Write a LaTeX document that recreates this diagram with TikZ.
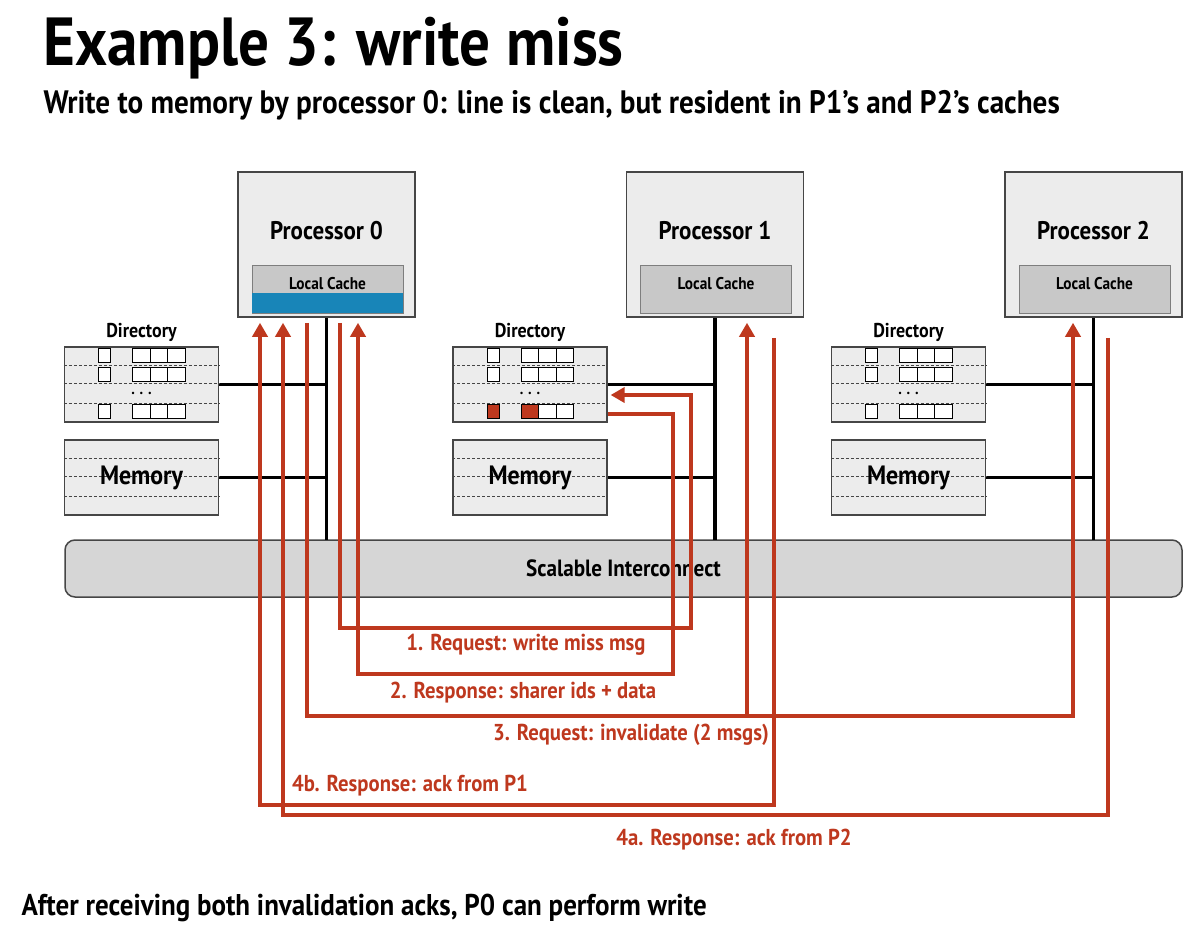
\documentclass[tikz,border=0pt]{standalone}
\usepackage{fontspec}
\setmainfont{PT Sans}[FakeStretch=0.9]
\usetikzlibrary{arrows.meta}
\definecolor{msgred}{RGB}{190,56,30}
\definecolor{boxgray}{RGB}{236,236,236}
\definecolor{cachegray}{RGB}{200,200,200}
\definecolor{busgray}{RGB}{214,214,214}
\definecolor{edgegray}{RGB}{70,70,70}
\definecolor{lineblue}{RGB}{24,133,184}
\newcommand\fsz[1]{\fontsize{#1}{#1}\selectfont}

\begin{document}
\begin{tikzpicture}[x=1pt, y=-1pt, font=\bfseries,
	procbox/.style={draw=edgegray, line width=1.5pt, fill=boxgray, minimum width=177pt, minimum height=145pt, inner sep=0pt},
	cachebox/.style={draw=edgegray!70, line width=1pt, fill=cachegray, minimum width=151pt, minimum height=48pt, inner sep=0pt},
	membox/.style={draw=edgegray, line width=1.2pt, fill=boxgray, minimum width=154pt, minimum height=75pt, inner sep=0pt},
	entry/.style={draw=black, line width=1pt, fill=white, minimum width=17.5pt, minimum height=14.5pt, inner sep=0pt},
	bit/.style={entry, minimum width=12pt},
	rowline/.style={edgegray, line width=1pt, densely dashed},
	link/.style={black, line width=3.5pt},
	msg/.style={msgred, line width=4pt, -{Triangle[width=15pt,length=14pt]}},
	msglabel/.style={text=msgred, font=\bfseries\fsz{23}}]
	\useasboundingbox (0,0) rectangle (1188,926);
	% Titel
	\node[anchor=base west, font=\bfseries\fsz{68}] (title) at (40,65) {Example 3: write miss};
	\node[anchor=base west, font=\bfseries\fsz{32.4}] (subtitle) at (40,113) {Write to memory by processor 0: line is clean, but resident in P1’s and P2’s caches};
	\node[anchor=base west, font=\bfseries\fsz{30}] (footer) at (18,915) {After receiving both invalidation acks, P0 can perform write};
	% Interconnect
	\node[draw=edgegray, line width=1.5pt, fill=busgray, rounded corners=10pt, minimum width=1117pt, minimum height=57pt, font=\bfseries\fsz{23.5}] (bus) at (623.5,568.5) {Scalable Interconnect};
	% Knoten
	\foreach \i/\px in {0/326.5, 1/715, 2/1093.5} {
		\draw[link] (\px,317) -- (\px,540);
		\node[procbox] (proc\i) at (\px,244.5) {};
		\node[font=\bfseries\fsz{25.5}] (plabel\i) at (\px,231) {Processor \i};
		\node[cachebox] (cache\i) at (\px+1,289) {};
		\node[font=\bfseries\fsz{17}] (clabel\i) at (\px+1,284) {Local Cache};
		\node[font=\bfseries\fsz{20}] (dlabel\i) at (\px-185,332) {Directory};
		\node[membox] (dir\i) at (\px-185,384.5) {};
		\node[membox] (mem\i) at (\px-185,477.5) {};
		\draw[link] (dir\i.east) -- (dir\i.east -| proc\i.south);
		\draw[link] (mem\i.east) -- (mem\i.east -| proc\i.south);
		\foreach \dy in {-19,-1,19} {
			\draw[rowline] ([yshift=-\dy]dir\i.west) -- ([yshift=-\dy]dir\i.east);
			\draw[rowline] ([yshift=-\dy]mem\i.west) -- ([yshift=-\dy]mem\i.east);
		}
		\foreach \dy in {-29,-10,27} {
			\node[bit] at ([xshift=-37,yshift=-\dy]dir\i.center) {};
			\foreach \dx in {0,17.5,35}
				\node[entry] at ([xshift=\dx,yshift=-\dy]dir\i.center) {};
		}
		\node[font=\bfseries\fsz{16}] (dots\i) at ([yshift=-9]dir\i.center) {. . .};
		\node[font=\bfseries\fsz{26.5}] (mlabel\i) at (mem\i.center) {Memory};
	}
	% Zeile im Zustand von P0 (blau) und Eintrag im Directory (rot)
	\fill[lineblue] (252,293) rectangle (403,313);
	\node[bit, fill=msgred] at ([xshift=-37,yshift=-27]dir1.center) {};
	\node[entry, fill=msgred] at ([yshift=-27]dir1.center) {};
	% Nachrichten
	\draw[msg, shorten >=3pt] ([xshift=13.5,yshift=-5]proc0.south) |- (691,628) |- ([yshift=-10.5]dir1.east);
	\draw[msg] ([yshift=-29.5]dir1.east) -| (673,674) -| ([xshift=31.5,yshift=-5]proc0.south);
	\draw[msg] ([xshift=-19.5,yshift=-5]proc0.south) -- ++(0,393) -| ([xshift=-20.5,yshift=-5]proc2.south);
	\draw[msg] (747,715) -- ([xshift=32,yshift=-5]proc1.south);
	\draw[msg] ([xshift=59,yshift=-20]proc1.south) -- ++(0,467) -| ([xshift=-66.5,yshift=-5]proc0.south);
	\draw[msg] ([xshift=14.5,yshift=-20]proc2.south) -- ++(0,477) -| ([xshift=-43.5,yshift=-5]proc0.south);
	\node[msglabel] (m1) at (526,645) {1. Request: write miss msg};
	\node[msglabel] (m2) at (523,693) {2. Response: sharer ids + data};
	\node[msglabel] (m3) at (631,735) {3. Request: invalidate (2 msgs)};
	\node[msglabel] (m4b) at (410,786) {4b. Response: ack from P1};
	\node[msglabel] (m4a) at (734,840) {4a. Response: ack from P2};
\end{tikzpicture}
\end{document}
